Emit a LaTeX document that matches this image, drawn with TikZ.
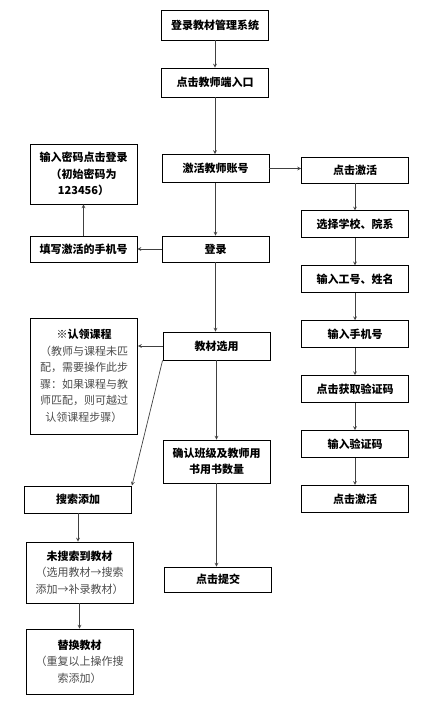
\documentclass[tikz,border=0pt]{standalone}
\usepackage{fontspec}
\setmainfont{Noto Sans CJK SC}
\usepackage{xcolor}
\usepackage{tikz}
\usetikzlibrary{arrows,positioning}
\newcommand{\hint}[1]{{\mdseries\color{black!70}#1}}

\begin{document}
\begin{tikzpicture}[
  x=1pt, y=-1pt,
  node distance=27pt,
  box/.style={rectangle, draw, line width=0.9pt, minimum width=107pt, minimum height=27pt, align=center, inner sep=2pt, font=\fontsize{11}{16.5}\selectfont\bfseries},
  arrow/.style={-stealth, line width=0.7pt, black!75}
]
\useasboundingbox (0,0) rectangle (424,704);

% Main column
\node[box, minimum height=30pt] (system) at (215,25) {登录教材管理系统};
\node[box, minimum height=29pt] (entry) at (215,82.5) {点击教师端入口};
\node[box, minimum height=28pt] (activate) at (215.5,168.5) {激活教师账号};
\node[box, minimum height=26pt] (signin) at (215.5,249) {登录};
\node[box, minimum height=28pt] (choose) at (216.5,346) {教材选用};
\node[box, minimum height=43pt] (confirm) at (216.5,461.5) {确认班级及教师用\\书用书数量};
\node[box, minimum height=25pt] (submit) at (218,579.5) {点击提交};

% Left column
\node[box, minimum height=26pt] (phone) at (83.5,249) {填写激活的手机号};
\node[box, minimum height=60pt] (pwd) at (83.5,174) {输入密码点击登录\\（初始密码为\\123456）};
\node[box, minimum height=116pt] (claim) at (84,376) {※认领课程\\\hint{（教师与课程未匹}\\\hint{配，需要操作此步}\\\hint{骤：如果课程与教}\\\hint{师匹配，则可越过}\\\hint{认领课程步骤）}};
\node[box, minimum height=27pt] (search) at (78,499.5) {搜索添加};
\node[box, minimum height=61pt] (notfound) at (79.5,572.5) {未搜索到教材\\\hint{（选用教材→搜索}\\\hint{添加→补录教材）}};
\node[box, minimum height=65pt] (replace) at (79.5,661.5) {替换教材\\\hint{（重复以上操作搜}\\\hint{索添加）}};

% Right column: activation steps
\node[box, minimum height=26pt] (click) at (355,170) {点击激活};
\node[box, below=of click] (school) {选择学校、院系};
\node[box, below=of school] (staffid) {输入工号、姓名};
\node[box, below=of staffid] (mobile) {输入手机号};
\node[box, below=of mobile] (getcode) {点击获取验证码};
\node[box, below=of getcode] (code) {输入验证码};
\node[box, below=of code] (done) {点击激活};

% Arrows - main column
\draw[arrow] (system) -- (entry);
\draw[arrow] (entry.south) -- (entry.south |- activate.north);
\draw[arrow] (activate) -- (signin);
\draw[arrow] (signin) -- (signin |- choose.north);
\draw[arrow] (choose) -- (confirm);
\draw[arrow] (confirm.south) -- (confirm.south |- submit.north);

% Arrows - to the left
\draw[arrow] (signin) -- (phone);
\draw[arrow] (phone) -- (pwd);
\draw[arrow] (choose.west) -- (choose.west -| claim.east);
\draw[arrow] (choose.south west) -- (search.north east);
\draw[arrow] (search) -- (search |- notfound.north);
\draw[arrow] (notfound) -- (replace);

% Arrows - activation
\draw[arrow] (activate.east) -- (activate.east -| click.west);
\draw[arrow] (click) -- (school);
\draw[arrow] (school) -- (staffid);
\draw[arrow] (staffid) -- (mobile);
\draw[arrow] (mobile) -- (getcode);
\draw[arrow] (getcode) -- (code);
\draw[arrow] (code) -- (done);

\end{tikzpicture}
\end{document}
